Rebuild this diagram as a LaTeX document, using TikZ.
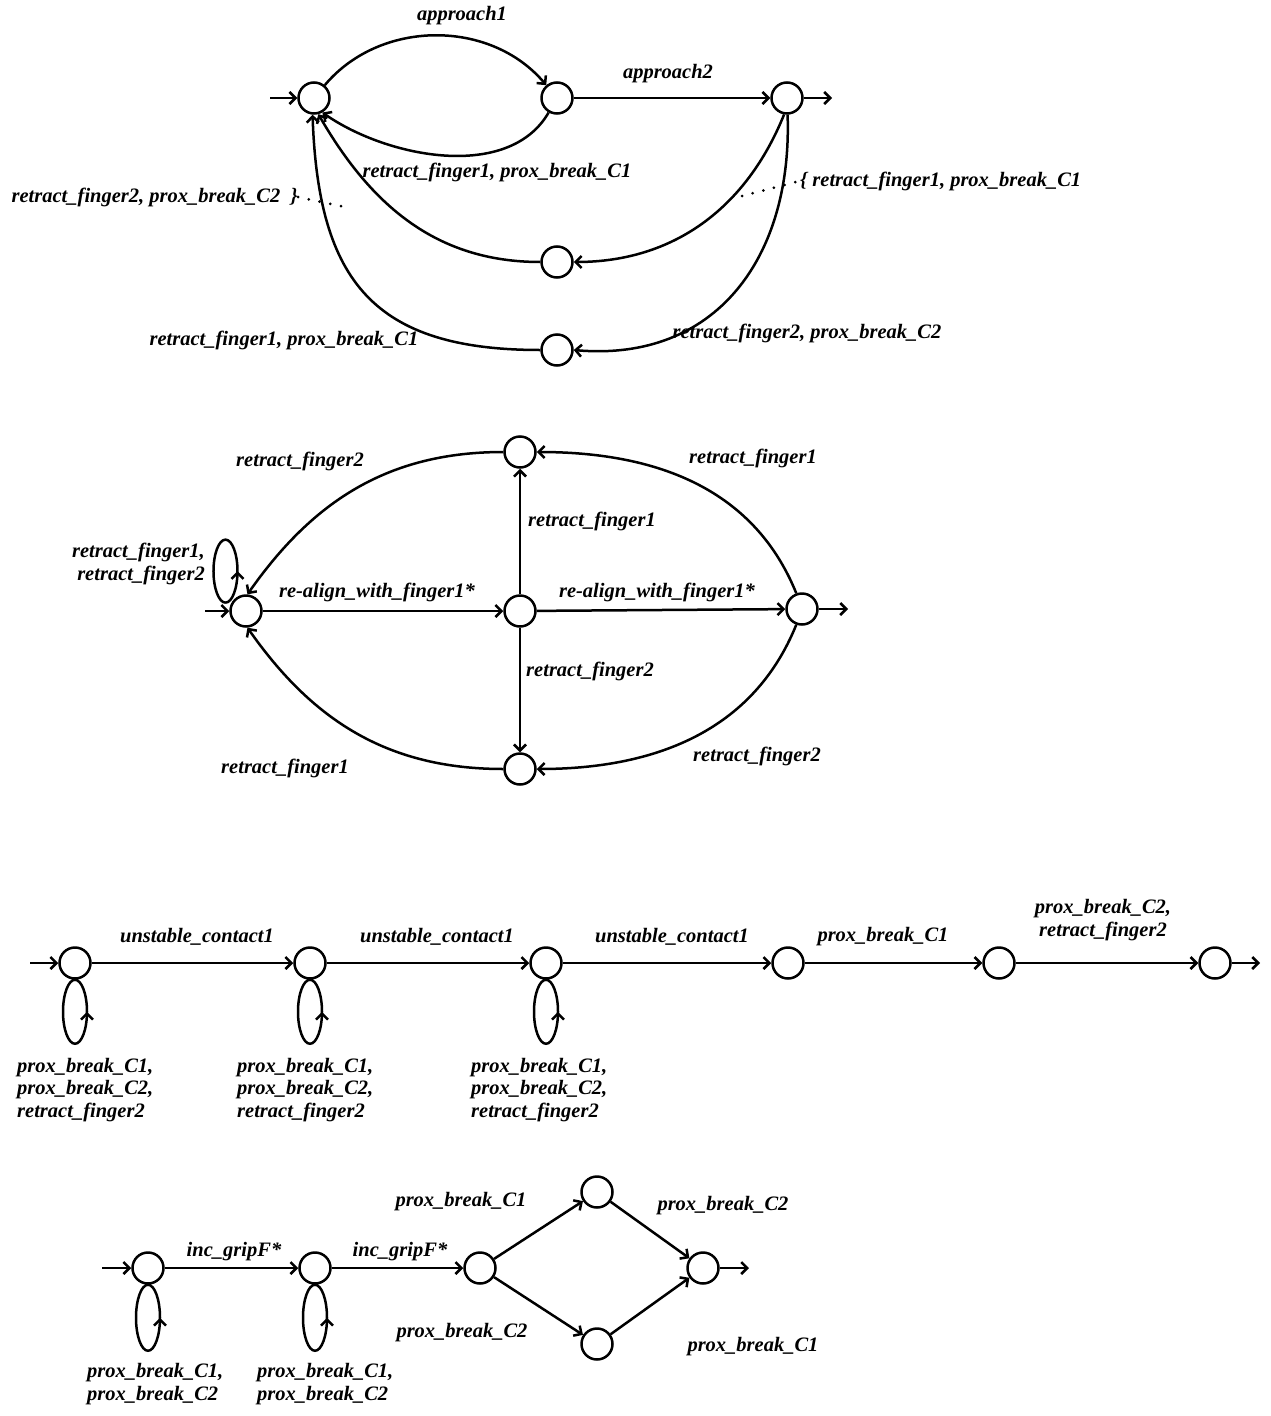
\documentclass[tikz,border=0pt]{standalone}
\usepackage{fontspec}
\setmainfont{Liberation Serif}
\usepackage{tikz}
\usetikzlibrary{arrows.meta}
\usetikzlibrary{decorations.markings}

\begin{document}
\begin{tikzpicture}[
							x=1pt, y=1pt,
							statenode/.style={circle, draw=black, fill=white, line width=2.5pt, minimum size=31pt, inner sep=0pt},
							lbl/.style={font=\fontsize{20.5}{22.5}\selectfont\bfseries\itshape, inner sep=0pt},
							trans/.style={line width=2.5pt, -{Straight Barb[length=6pt, width=12pt]}},
							selfloop/.style={line width=2.5pt, postaction={decorate, decoration={markings, mark=at position #1 with {\arrow{Straight Barb[length=6pt, width=12pt]}}}}},
							dotline/.style={line width=3pt, line cap=round, dash pattern=on 0pt off 11pt},
							]
							\useasboundingbox (0,0) rectangle (1270,-1416);

							%Nodes (first automaton)
							\node[statenode]      (q1a)     at  (314,-98)       {};
							\node[statenode]      (q1b)     at  (557,-98)       {};
							\node[statenode]      (q1c)     at  (787,-98)       {};
							\node[statenode]      (q1d)     at  (557,-262)      {};
							\node[statenode]      (q1e)     at  (557,-350)      {};
							\coordinate           (in1)     at  (270,-98);
							\coordinate           (out1)    at  (832,-98);
							\coordinate           (dotL)    at  (350,-208);
							\coordinate           (dotR)    at  (742,-196);
							\node[lbl]            (l1a)     at  (462,-16)       {approach1};
							\node[lbl]            (l1b)     at  (668,-74)       {approach2};
							\node[lbl]            (l1c)     at  (497,-172)      {retract\_finger1, prox\_break\_C1};
							\node[lbl,anchor=east] (l1d)    at  (298,-197)      {retract\_finger2, prox\_break\_C2\ \ \}};
							\node[lbl,anchor=west] (l1e)    at  (800,-181)      {\{ retract\_finger1, prox\_break\_C1};
							\node[lbl]            (l1f)     at  (284,-340)      {retract\_finger1, prox\_break\_C1};
							\node[lbl]            (l1g)     at  (807,-333)      {retract\_finger2, prox\_break\_C2};

							\draw[trans] (in1) -- (q1a);
							\draw[trans] (q1a.50) to[out=50, in=130] (q1b.130);
							\draw[trans] (q1b) -- (q1c);
							\draw[trans] (q1c) -- (out1);
							\draw[trans] (q1b.-120) to[out=-120, in=-35, looseness=0.9] (q1a.-60);
							\draw[trans] (q1c.-100) to[out=-112, in=0] (q1d.east);
							\draw[trans] (q1c.-88) to[out=-88, in=-5, looseness=1.15] (q1e.east);
							\draw[trans] (q1d.west) to[out=180, in=-60] (q1a.-75);
							\draw[trans] (q1e.west) to[out=180, in=-88, looseness=1.3] (q1a.-95);
							\draw[dotline] (l1d.east) -- (dotL);
							\draw[dotline] (dotR) -- (l1e.west);

							%Nodes (second automaton)
							\node[statenode]      (p2s)     at  (246,-611)      {};
							\node[statenode]      (p2m)     at  (520,-611)      {};
							\node[statenode]      (p2t)     at  (520,-452)      {};
							\node[statenode]      (p2b)     at  (520,-769)      {};
							\node[statenode]      (p2f)     at  (802,-609)      {};
							\coordinate           (in2)     at  (205,-611);
							\coordinate           (out2)    at  (848,-609);
							\node[lbl]            (l2a)     at  (377,-592)      {re-align\_with\_finger1*};
							\node[lbl]            (l2b)     at  (657,-592)      {re-align\_with\_finger1*};
							\node[lbl]            (l2c)     at  (592,-521)      {retract\_finger1};
							\node[lbl]            (l2d)     at  (590,-671)      {retract\_finger2};
							\node[lbl]            (l2e)     at  (300,-461)      {retract\_finger2};
							\node[lbl]            (l2f)     at  (753,-458)      {retract\_finger1};
							\node[lbl]            (l2g)     at  (285,-768)      {retract\_finger1};
							\node[lbl]            (l2h)     at  (757,-756)      {retract\_finger2};
							\node[lbl,align=right,anchor=east] (l2i) at (205,-564) {retract\_finger1,\\retract\_finger2};

							\draw[trans] (in2) -- (p2s);
							\draw[trans] (p2s) -- (p2m);
							\draw[trans] (p2m) -- (p2f);
							\draw[trans] (p2f) -- (out2);
							\draw[trans] (p2m) -- (p2t);
							\draw[trans] (p2m) -- (p2b);
							\draw[trans] (p2t.west) to[out=180, in=55] (p2s.85);
							\draw[trans] (p2f.110) to[out=112, in=0] (p2t.east);
							\draw[trans] (p2b.west) to[out=180, in=-55] (p2s.-85);
							\draw[trans] (p2f.-110) to[out=-112, in=0] (p2b.east);
							\draw[selfloop=0.25] ([xshift=-6pt]p2s.150) arc[start angle=270, end angle=630, x radius=12pt, y radius=31.5pt];

							%Nodes (third automaton)
							\node[statenode]      (r3a)     at  (75,-963)       {};
							\node[statenode]      (r3b)     at  (310,-963)      {};
							\node[statenode]      (r3c)     at  (546,-963)      {};
							\node[statenode]      (r3d)     at  (788,-963)      {};
							\node[statenode]      (r3e)     at  (999,-963)      {};
							\node[statenode]      (r3f)     at  (1215,-963)     {};
							\coordinate           (in3)     at  (30,-963);
							\coordinate           (out3)    at  (1260,-963);
							\node[lbl]            (l3a)     at  (197,-937)      {unstable\_contact1};
							\node[lbl]            (l3b)     at  (437,-937)      {unstable\_contact1};
							\node[lbl]            (l3c)     at  (672,-937)      {unstable\_contact1};
							\node[lbl]            (l3d)     at  (883,-937)      {prox\_break\_C1};
							\node[lbl,align=center] (l3e)   at  (1103,-920)     {prox\_break\_C2,\\retract\_finger2};
							\node[lbl,align=left,anchor=west] (l3f) at (17,-1090)  {prox\_break\_C1,\\prox\_break\_C2,\\retract\_finger2};
							\node[lbl,align=left,anchor=west] (l3g) at (237,-1090) {prox\_break\_C1,\\prox\_break\_C2,\\retract\_finger2};
							\node[lbl,align=left,anchor=west] (l3h) at (471,-1090) {prox\_break\_C1,\\prox\_break\_C2,\\retract\_finger2};

							\draw[trans] (in3) -- (r3a);
							\draw[trans] (r3a) -- (r3b);
							\draw[trans] (r3b) -- (r3c);
							\draw[trans] (r3c) -- (r3d);
							\draw[trans] (r3d) -- (r3e);
							\draw[trans] (r3e) -- (r3f);
							\draw[trans] (r3f) -- (out3);
							\draw[selfloop=0.75] (r3a.south) arc[start angle=90, end angle=450, x radius=12pt, y radius=32pt];
							\draw[selfloop=0.75] (r3b.south) arc[start angle=90, end angle=450, x radius=12pt, y radius=32pt];
							\draw[selfloop=0.75] (r3c.south) arc[start angle=90, end angle=450, x radius=12pt, y radius=32pt];

							%Nodes (fourth automaton)
							\node[statenode]      (s4a)     at  (148,-1268)     {};
							\node[statenode]      (s4b)     at  (315,-1268)     {};
							\node[statenode]      (s4c)     at  (480,-1268)     {};
							\node[statenode]      (s4t)     at  (597,-1192)     {};
							\node[statenode]      (s4d)     at  (597,-1344)     {};
							\node[statenode]      (s4f)     at  (703,-1268)     {};
							\coordinate           (in4)     at  (102,-1268);
							\coordinate           (out4)    at  (749,-1268);
							\node[lbl]            (l4a)     at  (234,-1252)     {inc\_gripF*};
							\node[lbl]            (l4b)     at  (400,-1252)     {inc\_gripF*};
							\node[lbl]            (l4c)     at  (461,-1202)     {prox\_break\_C1};
							\node[lbl]            (l4d)     at  (723,-1206)     {prox\_break\_C2};
							\node[lbl]            (l4e)     at  (462,-1333)     {prox\_break\_C2};
							\node[lbl]            (l4f)     at  (753,-1347)     {prox\_break\_C1};
							\node[lbl,align=left,anchor=west] (l4g) at (87,-1384)  {prox\_break\_C1,\\prox\_break\_C2};
							\node[lbl,align=left,anchor=west] (l4h) at (257,-1384) {prox\_break\_C1,\\prox\_break\_C2};

							\draw[trans] (in4) -- (s4a);
							\draw[trans] (s4a) -- (s4b);
							\draw[trans] (s4b) -- (s4c);
							\draw[trans] (s4c) -- (s4t);
							\draw[trans] (s4c) -- (s4d);
							\draw[trans] (s4t) -- (s4f);
							\draw[trans] (s4d) -- (s4f);
							\draw[trans] (s4f) -- (out4);
							\draw[selfloop=0.75] (s4a.south) arc[start angle=90, end angle=450, x radius=12pt, y radius=33pt];
							\draw[selfloop=0.75] (s4b.south) arc[start angle=90, end angle=450, x radius=12pt, y radius=33pt];
\end{tikzpicture}
\end{document}
